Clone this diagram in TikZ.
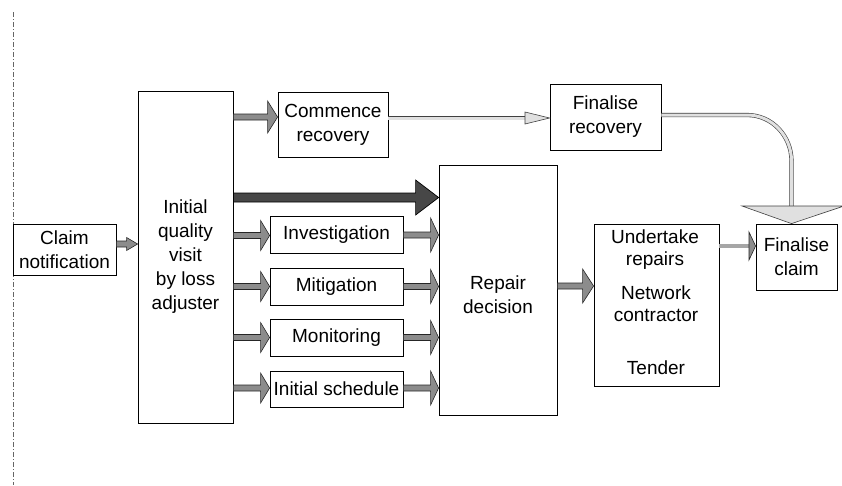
\documentclass[tikz,border=0pt]{standalone}
\usepackage{fontspec}
\setmainfont{Liberation Sans}
\usetikzlibrary{calc}
\tikzset{
 box/.style={draw=black, line width=0.8pt, fill=white, inner sep=0pt, align=center, font=\fontsize{19}{24}\selectfont},
 txt/.style={inner sep=0pt, align=center, font=\fontsize{19}{24}\selectfont},
 txtb/.style={inner sep=0pt, align=center, font=\fontsize{19}{22}\selectfont},
 garrow/.style={fill=black!45, draw=black!85, line width=0.6pt},
 darrow/.style={fill=black!72, draw=black, line width=0.7pt},
 larrow/.style={fill=black!12, draw=black!75, line width=0.6pt},
 dshaft/.style={draw=black!75, line width=0.6pt, double=black!12, double distance=3pt},
 gshaft/.style={draw=black!70, line width=0.6pt, double=black!35, double distance=3.5pt},
 sepline/.style={draw=black!60, line width=0.6pt, dash pattern=on 5pt off 2pt on 1pt off 2pt},
}
% #1 style, #2 from, #3 to, #4 y (px), #5 shaft half, #6 head half, #7 head length
\newcommand\barrow[7]{%
 \path[#1] let \p1=(#2), \p2=(#3), \p3=(0,#4) in
 (\x1,\y3+#5) -- (\x2-#7,\y3+#5) -- (\x2-#7,\y3+#6) -- (\x2,\y3)
 -- (\x2-#7,\y3-#6) -- (\x2-#7,\y3-#5) -- (\x1,\y3-#5) -- cycle;}
\begin{document}
\begin{tikzpicture}[x=1pt,y=-1pt]
\useasboundingbox (0,0) rectangle (842,485);
% separator
\coordinate (septop) at (13,12);
\coordinate (sepbot) at (13,485);
\draw[sepline] (septop) -- (sepbot);
% boxes
\node[box, minimum width=103pt, minimum height=51pt] (claim) at (64.5,249.5) {Claim\\notification};
\node[box, minimum width=95pt, minimum height=332pt] (iq) at (185.5,257) {Initial\\quality\\visit\\by loss\\adjuster};
\node[box, minimum width=110pt, minimum height=65pt] (comm) at (333,124.5) {Commence\\recovery};
\node[box, minimum width=111pt, minimum height=66pt] (frec) at (605.5,117) {Finalise\\recovery};
\node[box, minimum width=133pt, minimum height=37pt] (inv) at (336.5,234.5) {Investigation};
\node[box, minimum width=133pt, minimum height=37pt] (mit) at (336.5,286.5) {Mitigation};
\node[box, minimum width=133pt, minimum height=37pt] (mon) at (336.5,337.5) {Monitoring};
\node[box, minimum width=133pt, minimum height=36pt] (isch) at (336.5,389) {Initial schedule};
\node[box, minimum width=118pt, minimum height=250pt] (rep) at (498,290) {};
\node[txt] (reptxt) at (498,295) {Repair\\decision};
\node[box, minimum width=125pt, minimum height=162pt] (und) at (656.5,305) {};
\node[txtb] (und1) at (655,250) {Undertake\\repairs};
\node[txtb] (und2) at (656,304) {Network\\contractor};
\node[txt] (und3) at (656,368) {Tender};
\node[box, minimum width=81pt, minimum height=66pt] (fcl) at (796.5,257) {Finalise\\claim};
% arrows
\barrow{garrow}{claim.east}{iq.west}{244}{3pt}{6.5pt}{11pt}
\barrow{garrow}{iq.east}{comm.west}{117}{3pt}{16pt}{10pt}
\barrow{darrow}{iq.east}{rep.west}{197.5}{4.5pt}{17.5pt}{23pt}
\barrow{garrow}{iq.east}{inv.west}{235.5}{3pt}{15pt}{9pt}
\barrow{garrow}{iq.east}{mit.west}{286.5}{3pt}{15pt}{9pt}
\barrow{garrow}{iq.east}{mon.west}{337.5}{3pt}{15pt}{9pt}
\barrow{garrow}{iq.east}{isch.west}{388}{3pt}{15pt}{9pt}
\barrow{garrow}{inv.east}{rep.west}{235}{3pt}{17pt}{8pt}
\barrow{garrow}{mit.east}{rep.west}{286.5}{3pt}{17pt}{8pt}
\barrow{garrow}{mon.east}{rep.west}{337.5}{3pt}{17pt}{8pt}
\barrow{garrow}{isch.east}{rep.west}{388}{3pt}{17pt}{8pt}
\barrow{garrow}{rep.east}{und.west}{286}{3pt}{17pt}{11pt}
% commence -> finalise recovery
\coordinate (frhead) at (525,118);
\draw[dshaft] (comm.east |- frhead) -- (frhead);
\path[larrow] let \p1=(frec.west), \p2=(frhead) in
 (\x2,\y2+6pt) -- (\x1,\y2) -- (\x2,\y2-6pt) -- cycle;
% finalise recovery -> finalise claim (curved)
\coordinate (c1) at (747,115);
\coordinate (c2) at (791.5,161);
\coordinate (c3) at (791.5,206);
\draw[dshaft] (frec.east |- c1) -- (c1) .. controls (772,115) and (791.5,136) .. (c2) -- (c3);
\coordinate (hl) at (742,206);
\coordinate (hr) at (844,206);
\path[larrow] (hl) -- (hr) -- (fcl.north -| c3) -- cycle;
% undertake -> finalise claim
\coordinate (uhead) at (749,246);
\draw[gshaft] (und.east |- uhead) -- (uhead);
\path[garrow] let \p1=(fcl.west), \p2=(uhead) in
 (\x2,\y2+14pt) -- (\x1,\y2) -- (\x2,\y2-14pt) -- cycle;
\end{tikzpicture}
\end{document}
